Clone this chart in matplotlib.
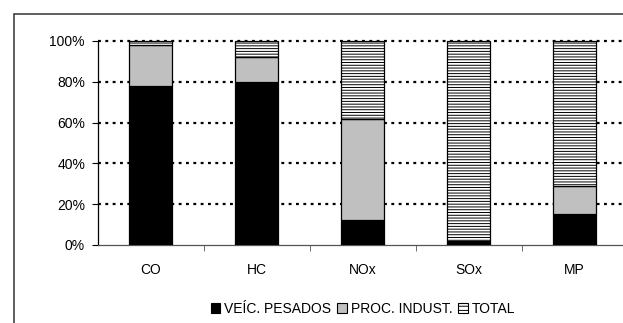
import matplotlib
matplotlib.use("Agg")
import matplotlib.pyplot as plt
import numpy as np
from matplotlib.patches import Rectangle, Patch
from matplotlib.ticker import FuncFormatter, FixedLocator

plt.rcParams['font.family'] = ['Liberation Sans', 'DejaVu Sans']
plt.rcParams['hatch.linewidth'] = 0.7
plt.rcParams['hatch.color'] = '#333333'

categories = ["CO", "HC", "NOx", "SOx", "MP"]
veic_pesados = [78, 80, 12.5, 2, 15]
proc_indust = [20, 12, 49.5, 0, 14]
total = [2, 8, 38, 98, 71]
series_names = ["VEÍC. PESADOS", "PROC. INDUST.", "TOTAL"]

fig = plt.figure(figsize=(6.23, 3.23), dpi=100)
fig.patch.set_facecolor('white')

# outer frame around the chart area
fig.patches.append(Rectangle((14 / 623, -0.2), 1.2, 1 - 13.5 / 323 + 0.2,
                             transform=fig.transFigure, fill=False,
                             edgecolor='#333333', linewidth=1.1))

ax = fig.add_axes([97.5 / 623, 1 - 245 / 323, 530 / 623, 204 / 323])

x = np.arange(len(categories))
width = 0.4
v = np.array(veic_pesados)
p = np.array(proc_indust)
t = np.array(total)

ax.bar(x, v, width, color='black', edgecolor='black', linewidth=0.9, zorder=3)
ax.bar(x, p, width, bottom=v, color='#c0c0c0', edgecolor='black', linewidth=0.9, zorder=3)
ax.bar(x, t, width, bottom=v + p, color='white', edgecolor='black', linewidth=0.9,
       hatch='------', zorder=3, clip_on=False)

ax.set_xlim(-0.5, len(categories) - 0.5)
ax.set_ylim(0, 100)

# dotted horizontal gridlines
for yv in [20, 40, 60, 80, 100]:
    ax.axhline(yv, color='black', linewidth=1.6, linestyle=(0, (1.3, 2.0)),
               zorder=1, clip_on=False)

ax.set_yticks([0, 20, 40, 60, 80, 100])
ax.yaxis.set_major_formatter(FuncFormatter(lambda val, pos: f"{int(val)}%"))
ax.set_xticks(x)
ax.set_xticklabels(categories)
ax.xaxis.set_minor_locator(FixedLocator(np.arange(0.5, len(categories) - 0.5, 1)))
ax.tick_params(axis='x', which='major', length=0, pad=13, labelsize=10)
ax.tick_params(axis='x', which='minor', length=4, direction='out', color='#555555')
ax.tick_params(axis='y', length=4, direction='out', labelsize=10, pad=5)

for s in ['top', 'right']:
    ax.spines[s].set_visible(False)
ax.spines['left'].set_color('black')
ax.spines['left'].set_linewidth(0.9)
ax.spines['bottom'].set_color('#555555')
ax.spines['bottom'].set_linewidth(0.9)

handles = [
    Patch(facecolor='black', edgecolor='black', linewidth=0.8),
    Patch(facecolor='#c0c0c0', edgecolor='black', linewidth=0.8),
    Patch(facecolor='white', edgecolor='black', linewidth=0.8, hatch='----'),
]
fig.legend(handles, series_names, loc='center', bbox_to_anchor=(363 / 623, 1 - 309 / 323),
           ncol=3, frameon=False, fontsize=10, handlelength=0.7, handleheight=0.7,
           handletextpad=0.3, columnspacing=0.4)

fig.savefig("out.png", dpi=100)
